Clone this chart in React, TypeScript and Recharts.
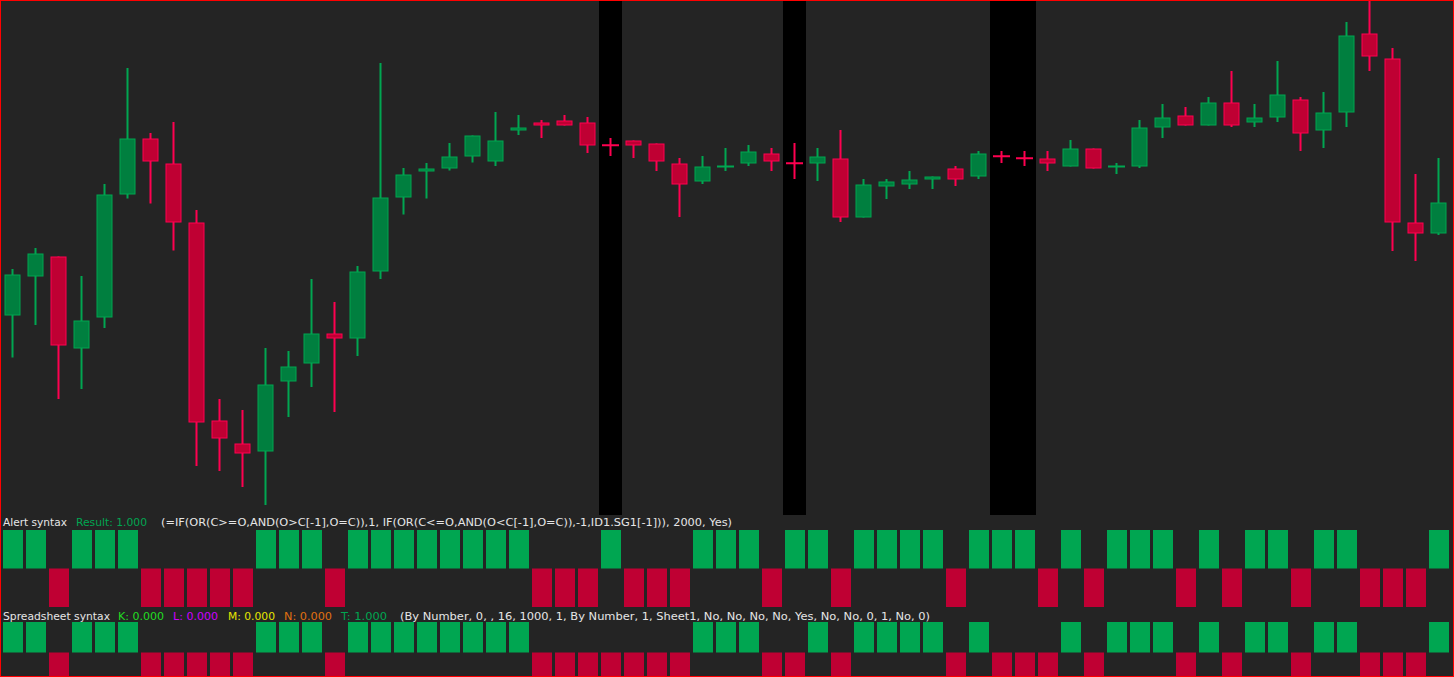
import React from 'react';
import { ComposedChart, BarChart, Bar, XAxis, YAxis, ReferenceArea, Cell } from 'recharts';

// bar numbers (one per candle)
const bars = [
  1, 2, 3, 4, 5, 6, 7, 8, 9, 10, 11, 12, 13, 14, 15, 16, 17, 18, 19, 20, 21,
  22, 23, 24, 25, 26, 27, 28, 29, 30, 31, 32, 33, 34, 35, 36, 37, 38, 39, 40, 41, 42,
  43, 44, 45, 46, 47, 48, 49, 50, 51, 52, 53, 54, 55, 56, 57, 58, 59, 60, 61, 62, 63,
];

const opens = [
  39.9, 47.7, 51.7, 33.3, 39.5, 64.1, 75.3, 70.3, 58.5, 18.9,
  14.3, 12.7, 26.7, 30.3, 36.3, 35.3, 48.7, 63.5, 68.7, 69.3,
  71.7, 70.7, 76.9, 78.5, 78.9, 78.5, 74.0, 74.9, 74.3, 70.3,
  66.7, 69.7, 70.3, 72.3, 70.4, 70.3, 71.3, 59.5, 65.7, 66.1,
  67.1, 69.3, 67.7, 71.8, 71.4, 71.3, 69.7, 73.3, 69.7, 69.7,
  77.5, 79.9, 77.9, 82.5, 78.5, 79.5, 83.1, 76.9, 80.5, 96.3,
  91.3, 58.5, 56.3,
];

const highs = [
  49.2, 53.4, 51.7, 47.8, 66.2, 89.4, 76.4, 78.6, 61.0, 23.2,
  21.0, 33.4, 32.8, 47.2, 42.6, 49.8, 90.4, 69.4, 70.4, 74.4,
  75.9, 80.6, 80.0, 79.0, 80.0, 79.6, 75.4, 74.9, 74.3, 71.4,
  71.8, 73.4, 74.0, 73.4, 74.4, 73.4, 77.0, 67.2, 67.2, 68.8,
  67.7, 69.8, 72.8, 72.8, 72.8, 72.8, 75.0, 73.3, 70.4, 79.0,
  82.2, 81.6, 83.6, 88.8, 82.2, 90.8, 83.6, 84.6, 98.6, 103.0,
  93.4, 68.2, 71.4,
];

const lows = [
  31.5, 38.0, 23.2, 25.2, 37.4, 63.3, 62.3, 52.9, 9.8, 8.8,
  5.6, 2.0, 19.6, 25.6, 20.6, 31.8, 47.2, 60.1, 63.3, 68.9,
  70.5, 69.8, 76.0, 75.4, 77.9, 72.4, 71.8, 71.4, 68.8, 59.6,
  66.2, 68.8, 69.8, 68.8, 67.2, 66.8, 58.6, 59.5, 63.2, 65.2,
  65.2, 65.8, 67.2, 70.4, 69.8, 68.8, 69.7, 69.3, 68.2, 69.4,
  75.4, 77.9, 77.9, 77.6, 77.6, 78.6, 72.8, 73.4, 77.6, 88.8,
  52.8, 50.8, 56.0,
];

const closes = [
  48.1, 52.3, 33.9, 38.9, 64.1, 75.3, 70.7, 58.5, 18.5, 15.3,
  12.3, 26.1, 29.7, 36.3, 35.3, 48.7, 63.5, 68.1, 69.3, 71.7,
  75.9, 74.9, 77.5, 77.9, 77.9, 73.9, 73.9, 73.9, 70.7, 66.1,
  69.7, 69.7, 72.7, 70.7, 70.3, 71.7, 59.5, 66.1, 66.7, 67.1,
  67.7, 67.1, 72.3, 71.7, 71.3, 70.3, 73.3, 69.3, 69.7, 77.5,
  79.5, 77.9, 82.5, 77.9, 79.5, 84.1, 76.3, 80.5, 95.9, 91.7,
  58.5, 56.3, 62.5,
];

// Alert syntax result per bar
const alertValues = [
  1, 1, -1, 1, 1, 1, -1, -1, -1, -1,
  -1, 1, 1, 1, -1, 1, 1, 1, 1, 1,
  1, 1, 1, -1, -1, -1, 1, -1, -1, -1,
  1, 1, 1, -1, 1, 1, -1, 1, 1, 1,
  1, -1, 1, 1, 1, -1, 1, -1, 1, 1,
  1, -1, 1, -1, 1, 1, -1, 1, 1, -1,
  -1, -1, 1,
];

// Spreadsheet syntax (T) per bar
const sheetValues = [
  1, 1, -1, 1, 1, 1, -1, -1, -1, -1,
  -1, 1, 1, 1, -1, 1, 1, 1, 1, 1,
  1, 1, 1, -1, -1, -1, -1, -1, -1, -1,
  1, 1, 1, -1, -1, 1, -1, 1, 1, 1,
  1, -1, 1, -1, -1, -1, 1, -1, 1, 1,
  1, -1, 1, -1, 1, 1, -1, 1, 1, -1,
  -1, -1, 1,
];

// bars marked with a black background
const highlightBars = [27, 35, 44, 45];

const data = bars.map((bar, i) => ({
  bar,
  open: opens[i],
  high: highs[i],
  low: lows[i],
  close: closes[i],
  alert: alertValues[i],
  sheet: sheetValues[i],
}));

const BG = '#242424';
const UP_BODY = '#007F3F';
const UP_EDGE = '#00A651';
const DOWN_BODY = '#BF0033';
const DOWN_EDGE = '#FF0050';
const BLOCK_UP = '#00A651';
const BLOCK_DOWN = '#BF0033';

function Candle(props: any) {
  const { x, y, width, height, payload } = props;
  if (!payload || height == null) return null;
  const { open, close, high, low } = payload;
  const top = Math.min(y, y + height);
  const h = Math.abs(height);
  const py = (v: number) => top + ((high - v) / (high - low)) * h;
  const up = close >= open;
  const edge = up ? UP_EDGE : DOWN_EDGE;
  const fill = up ? UP_BODY : DOWN_BODY;
  const cx = x + width / 2;
  const bTop = py(Math.max(open, close));
  const bBot = py(Math.min(open, close));
  const bodyH = bBot - bTop;
  return (
    <g>
      <rect x={cx - 1} y={top} width={2} height={h} fill={edge} />
      {bodyH < 2 ? (
        <rect x={cx - 8.5} y={(bTop + bBot) / 2 - 1} width={17} height={2} fill={edge} />
      ) : (
        <rect
          x={cx - 7.5}
          y={bTop + 0.5}
          width={15}
          height={bodyH - 1}
          fill={fill}
          stroke={edge}
          strokeWidth={1}
        />
      )}
    </g>
  );
}

function SignalPanel({ dataKey, top, height }: { dataKey: string; top: number; height: number }) {
  return (
    <div style={{ position: 'absolute', left: 1, top }}>
      <BarChart width={1449} height={height} data={data} margin={{ top: 0, right: 0, bottom: 0, left: 0 }} barCategoryGap={0}>
        <XAxis dataKey="bar" hide />
        <YAxis hide domain={[-1, 1]} />
        <Bar dataKey={dataKey} barSize={20} isAnimationActive={false}>
          {data.map((d: any, i) => (
            <Cell key={`c-${i}`} fill={d[dataKey] > 0 ? BLOCK_UP : BLOCK_DOWN} />
          ))}
        </Bar>
      </BarChart>
    </div>
  );
}

const textStyle = { fontFamily: '"DejaVu Sans", sans-serif', fontSize: 11 };

export default function App() {
  return (
    <div
      style={{
        position: 'fixed',
        left: 0,
        top: 0,
        width: 1454,
        height: 677,
        overflow: 'hidden',
        background: BG,
      }}
    >
      {/* price pane */}
      <div style={{ position: 'absolute', left: 1, top: 0 }}>
        <ComposedChart width={1449} height={515} data={data} margin={{ top: 0, right: 0, bottom: 0, left: 0 }} barCategoryGap={0}>
          <XAxis dataKey="bar" hide />
          <YAxis hide domain={[0, 103]} allowDataOverflow />
          {highlightBars.map((b) => (
            <ReferenceArea key={b} x1={b} x2={b} fill="#000000" fillOpacity={1} stroke="none" ifOverflow="visible" />
          ))}
          <Bar
            dataKey={(d: any) => [d.low, d.high]}
            shape={(p: any) => <Candle {...p} />}
            isAnimationActive={false}
          />
        </ComposedChart>
      </div>

      <SignalPanel dataKey="alert" top={530} height={77} />
      <SignalPanel dataKey="sheet" top={622} height={61} />

      <svg width={1454} height={677} style={{ position: 'absolute', left: 0, top: 0, pointerEvents: 'none' }}>
        <g style={textStyle}>
          <text x={3} y={526} fill="#E6E6E6" textLength={64} lengthAdjust="spacingAndGlyphs">Alert syntax</text>
          <text x={76} y={526} fill="#00A651" textLength={71} lengthAdjust="spacingAndGlyphs">Result: 1.000</text>
          <text x={161} y={526} fill="#E6E6E6" textLength={571} lengthAdjust="spacingAndGlyphs">
            (=IF(OR(C&gt;=O,AND(O&gt;C[-1],O=C)),1, IF(OR(C&lt;=O,AND(O&lt;C[-1],O=C)),-1,ID1.SG1[-1])), 2000, Yes)
          </text>

          <text x={3} y={619.5} fill="#E6E6E6" textLength={107} lengthAdjust="spacingAndGlyphs">Spreadsheet syntax</text>
          <text x={118} y={619.5} fill="#22DD22" textLength={46} lengthAdjust="spacingAndGlyphs">K: 0.000</text>
          <text x={173} y={619.5} fill="#CC00FF" textLength={45} lengthAdjust="spacingAndGlyphs">L: 0.000</text>
          <text x={228} y={619.5} fill="#E6E600" textLength={47} lengthAdjust="spacingAndGlyphs">M: 0.000</text>
          <text x={284} y={619.5} fill="#E07010" textLength={48} lengthAdjust="spacingAndGlyphs">N: 0.000</text>
          <text x={341} y={619.5} fill="#00A651" textLength={46} lengthAdjust="spacingAndGlyphs">T: 1.000</text>
          <text x={400} y={619.5} fill="#E6E6E6" textLength={530} lengthAdjust="spacingAndGlyphs">
            (By Number, 0, , 16, 1000, 1, By Number, 1, Sheet1, No, No, No, No, Yes, No, No, 0, 1, No, 0)
          </text>
        </g>
      </svg>

      <div
        style={{
          position: 'absolute',
          left: 0,
          top: 0,
          width: 1454,
          height: 677,
          boxSizing: 'border-box',
          border: '1px solid #FF0000',
          pointerEvents: 'none',
        }}
      />
    </div>
  );
}
